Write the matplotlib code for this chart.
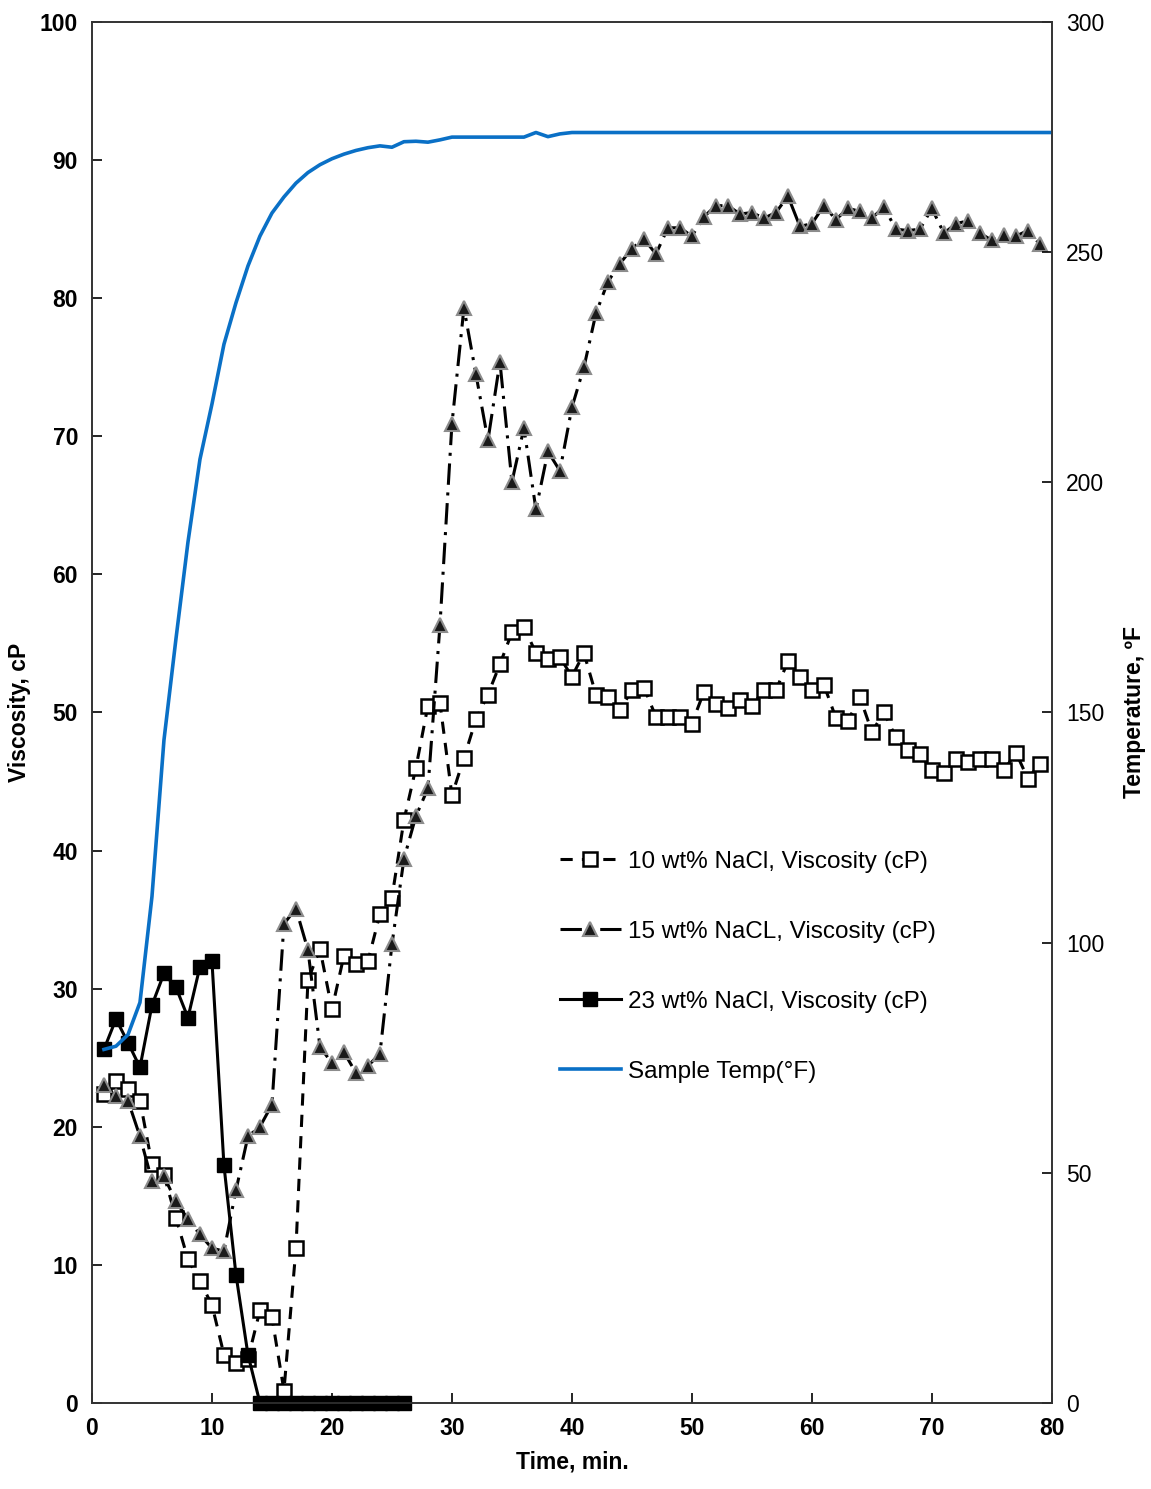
import matplotlib
matplotlib.use('Agg')
import matplotlib.pyplot as plt
import numpy as np

plt.rcParams['font.family'] = ['Liberation Sans', 'DejaVu Sans']

# time, min (one reading per minute)
time_min = list(range(1, 80))

visc_10 = [22.4, 23.3, 22.7, 21.9, 17.3, 16.5, 13.4, 10.4, 8.8, 7.1,
           3.5, 2.9, 3.2, 6.7, 6.2, 0.9, 11.2, 30.6, 32.9, 28.5,
           32.4, 31.8, 32.0, 35.4, 36.6, 42.2, 46.0, 50.5, 50.7, 44.0,
           46.7, 49.5, 51.3, 53.5, 55.8, 56.2, 54.3, 53.9, 54.0, 52.6,
           54.3, 51.3, 51.1, 50.2, 51.6, 51.8, 49.7, 49.7, 49.7, 49.2,
           51.5, 50.6, 50.3, 50.9, 50.5, 51.6, 51.6, 53.7, 52.6, 51.6,
           52.0, 49.6, 49.4, 51.1, 48.6, 50.0, 48.2, 47.3, 47.0, 45.8,
           45.6, 46.6, 46.4, 46.6, 46.6, 45.8, 47.1, 45.2, 46.3]

visc_15 = [23.0, 22.2, 21.9, 19.3, 16.1, 16.4, 14.6, 13.3, 12.2, 11.2,
           11.0, 15.4, 19.3, 20.0, 21.6, 34.7, 35.8, 32.8, 25.8, 24.6,
           25.4, 23.9, 24.4, 25.3, 33.2, 39.4, 42.5, 44.5, 56.3, 70.9,
           79.3, 74.5, 69.7, 75.4, 66.7, 70.6, 64.7, 68.9, 67.5, 72.1,
           75.0, 78.9, 81.2, 82.5, 83.6, 84.3, 83.2, 85.1, 85.1, 84.5,
           85.9, 86.7, 86.7, 86.1, 86.2, 85.8, 86.2, 87.4, 85.2, 85.4,
           86.7, 85.7, 86.5, 86.3, 85.8, 86.6, 85.0, 84.9, 85.0, 86.5,
           84.7, 85.4, 85.6, 84.7, 84.2, 84.6, 84.5, 84.9, 83.9]

time_23 = list(range(1, 27))
visc_23 = [25.6, 27.8, 26.1, 24.3, 28.8, 31.1, 30.1, 27.9, 31.6, 32.0,
           17.2, 9.3, 3.5, 0, 0, 0, 0, 0, 0, 0,
           0, 0, 0, 0, 0, 0]

time_temp = list(range(1, 81))
temp_f = [76.8, 77.5, 80.0, 87.0, 110.0, 144.0, 166.0, 187.0, 205.0, 217.0,
          230.0, 239.0, 247.0, 253.5, 258.5, 262.0, 265.0, 267.3, 269.0, 270.3,
          271.3, 272.1, 272.7, 273.1, 272.8, 274.0, 274.1, 273.9, 274.4, 275.0,
          275.0, 275.0, 275.0, 275.0, 275.0, 275.0, 276.0, 275.1, 275.7, 276.0] + [276.0] * 40

fig = plt.figure(figsize=(11.51, 14.89), dpi=100)
ax = fig.add_axes([0.0799, 0.0578, 0.834, 0.9274])
ax2 = ax.twinx()

l10, = ax.plot(time_min, visc_10, color='black', lw=2.2, ls=(0, (4, 3)),
               marker='s', ms=10, mfc='white', mec='black', mew=1.8,
               label='10 wt% NaCl, Viscosity (cP)')
l15, = ax.plot(time_min, visc_15, color='black', lw=2.2, ls=(0, (7, 2.5, 1, 2.5)),
               marker='^', ms=9.5, mfc='#1a1a1a', mec='#8c8c8c', mew=1.5,
               label='15 wt% NaCL, Viscosity (cP)')
l23, = ax.plot(time_23, visc_23, color='black', lw=2.2, ls='-',
               marker='s', ms=10.5, mfc='black', mec='black',
               label='23 wt% NaCl, Viscosity (cP)', clip_on=False, zorder=3)
lt, = ax2.plot(time_temp, temp_f, color='#0a70c6', lw=2.6,
               label='Sample Temp(°F)')

ax.set_xlim(0, 80)
ax.set_ylim(0, 100)
ax2.set_ylim(0, 300)
ax.set_xticks(range(0, 81, 10))
ax.set_yticks(range(0, 101, 10))
ax2.set_yticks(range(0, 301, 50))

ax.tick_params(direction='in', length=7, width=1.2, labelsize=16.5, pad=10)
ax2.tick_params(direction='in', length=7, width=1.2, labelsize=16.5, pad=10)
for lab in ax.get_xticklabels() + ax.get_yticklabels():
    lab.set_fontweight('bold')
for sp in list(ax.spines.values()) + list(ax2.spines.values()):
    sp.set_linewidth(1.2)
    sp.set_color('#333333')

ax.set_xlabel('Time, min.', fontsize=16.5, fontweight='bold', labelpad=8)
ax.set_ylabel('Viscosity, cP', fontsize=16.5, fontweight='bold', labelpad=6)
ax2.set_ylabel('Temperature, ºF', fontsize=16.5, fontweight='bold', labelpad=14)

ax2.legend(handles=[l10, l15, l23, lt], loc='upper left',
           bbox_to_anchor=(0.4875, 0.40), frameon=False, fontsize=17.5,
           handlelength=2.5, handletextpad=0.3, labelspacing=1.98,
           borderpad=0, borderaxespad=0)

fig.savefig('out.png', dpi=100)
